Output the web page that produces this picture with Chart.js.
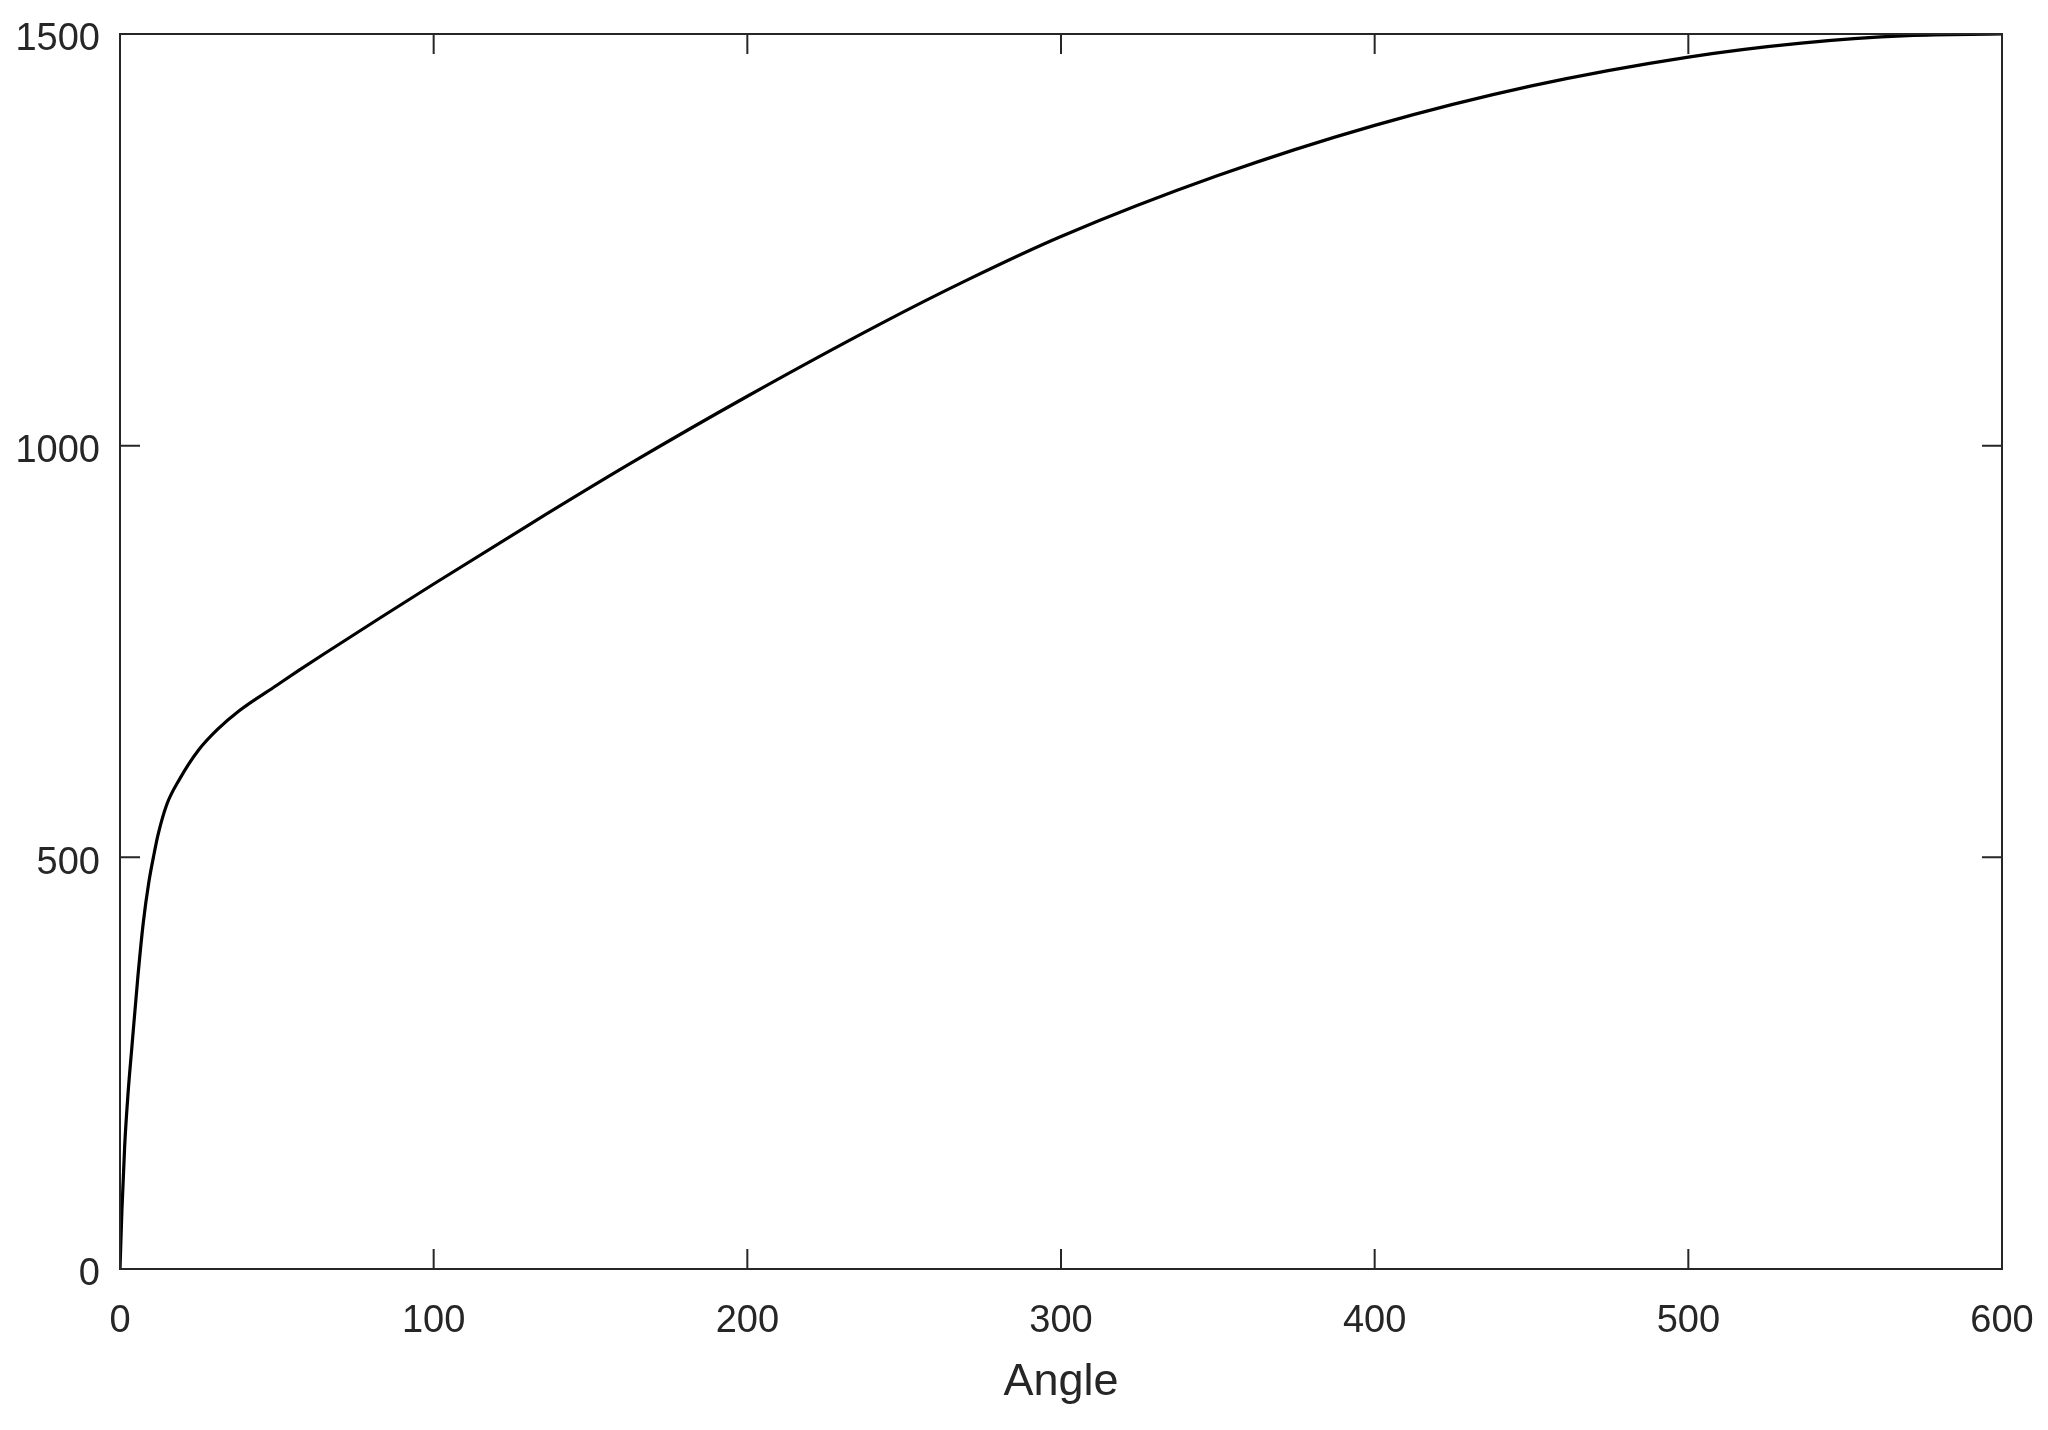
<!DOCTYPE html>
<html>
<head>
<meta charset="utf-8">
<script src="https://cdn.jsdelivr.net/npm/chart.js@4"></script>
<style>
  html, body { margin: 0; padding: 0; background: #fff; }
  #wrap { width: 2048px; height: 1430px; }
</style>
</head>
<body>
<div id="wrap"><canvas id="myChart" width="2048" height="1430"></canvas></div>
<script>
// values
const angles = [0, 0.6, 1.5, 2.6, 3.8, 5.7, 7.4, 9.2, 10.9, 12.1, 15, 19, 25, 31, 38, 50, 57, 65, 83, 100, 130, 163, 200, 242, 270, 300, 350, 400, 450, 500, 536, 570, 600];
const values = [0, 70, 150, 215, 270, 355, 420, 470, 505, 527, 565, 595, 630, 655, 678, 709, 727, 747, 791, 832, 903, 979, 1060, 1147, 1201, 1254, 1328, 1389, 1437, 1472, 1489, 1498, 1500];
const xTicks = [0, 100, 200, 300, 400, 500, 600];
const yTicks = [0, 500, 1000, 1500];

const points = angles.map((a, i) => ({ x: a, y: values[i] }));
const axisColor = '#262626';
const fontFamily = '"Liberation Sans", Arial, Helvetica, sans-serif';

// box around the plot area with ticks pointing inwards on all four sides
const boxTicks = {
  id: 'boxTicks',
  afterDraw(chart) {
    const { ctx, chartArea: a, scales } = chart;
    const len = 20;
    ctx.save();
    ctx.strokeStyle = axisColor;
    ctx.lineWidth = 2;
    ctx.beginPath();
    xTicks.forEach(v => {
      const px = scales.x.getPixelForValue(v);
      ctx.moveTo(px, a.bottom); ctx.lineTo(px, a.bottom - len);
      ctx.moveTo(px, a.top); ctx.lineTo(px, a.top + len);
    });
    yTicks.forEach(v => {
      const py = scales.y.getPixelForValue(v);
      ctx.moveTo(a.left, py); ctx.lineTo(a.left + len, py);
      ctx.moveTo(a.right, py); ctx.lineTo(a.right - len, py);
    });
    ctx.stroke();
    ctx.strokeRect(a.left, a.top, a.right - a.left, a.bottom - a.top);
    ctx.restore();
  }
};

const ctx = document.getElementById('myChart').getContext('2d');
const myChart = new Chart(ctx, {
  type: 'line',
  data: {
    datasets: [{
      data: points,
      borderColor: '#000000',
      borderWidth: 3.2,
      pointRadius: 0,
      fill: false,
      cubicInterpolationMode: 'monotone'
    }]
  },
  options: {
    responsive: false,
    animation: false,
    layout: { padding: { top: 34, right: 46, left: 0, bottom: 0 } },
    plugins: { legend: { display: false }, tooltip: { enabled: false } },
    scales: {
      x: {
        type: 'linear',
        min: 0,
        max: 600,
        afterBuildTicks: s => { s.ticks = xTicks.map(v => ({ value: v })); },
        afterFit: s => { s.height = 161; s.paddingLeft = 0; s.paddingRight = 0; },
        grid: { display: false, drawTicks: false },
        border: { display: false },
        ticks: {
          padding: 30,
          color: axisColor,
          font: { family: fontFamily, size: 38 },
          maxRotation: 0,
          callback: v => String(v)
        },
        title: {
          display: true,
          text: 'Angle',
          color: axisColor,
          font: { family: fontFamily, size: 45 },
          padding: { top: 0, bottom: 20 }
        }
      },
      y: {
        type: 'linear',
        min: 0,
        max: 1500,
        afterBuildTicks: s => { s.ticks = yTicks.map(v => ({ value: v })); },
        afterFit: s => { s.width = 120; s.paddingTop = 0; s.paddingBottom = 0; },
        grid: { display: false, drawTicks: false },
        border: { display: false },
        ticks: {
          padding: 20,
          labelOffset: 6,
          color: axisColor,
          font: { family: fontFamily, size: 38 },
          callback: v => String(v)
        }
      }
    }
  },
  plugins: [boxTicks]
});
</script>
</body>
</html>
